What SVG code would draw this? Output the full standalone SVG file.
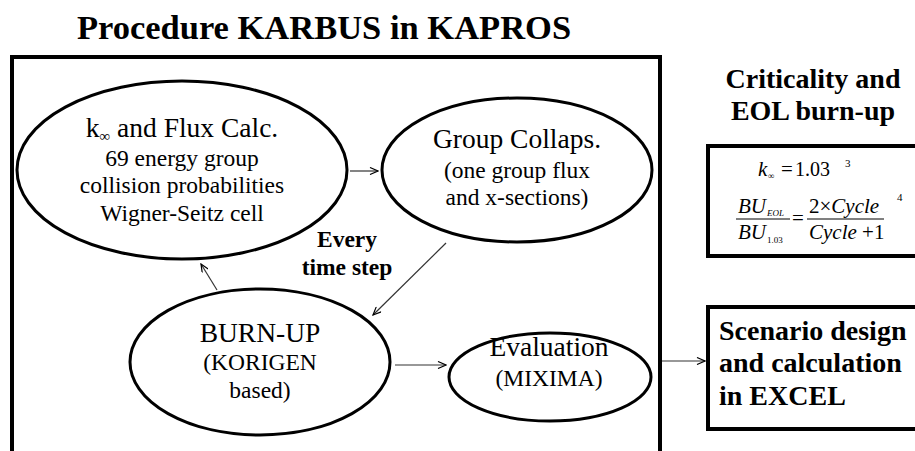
<svg xmlns="http://www.w3.org/2000/svg" width="915" height="451" viewBox="0 0 915 451">
<style>
text{font-family:"Liberation Serif","Times New Roman",serif;fill:#000}
.b{font-weight:bold}
.h{font-size:27.5px}
.s{font-size:23.5px}
.el{fill:#fff;stroke:#000;stroke-width:3}
.box{fill:#fff;stroke:#000;stroke-width:4}
.c{stroke:#333;stroke-width:1.2;fill:none}
.eq{font-size:21px}
.i{font-style:italic}
</style>
<defs>
<marker id="a" markerWidth="10" markerHeight="8" refX="9" refY="4" orient="auto" markerUnits="userSpaceOnUse">
<path d="M1,0.5 L9,4 L1,7.5" fill="none" stroke="#000" stroke-width="1.2"/>
</marker>
</defs>
<text x="324" y="39" text-anchor="middle" class="b" font-size="34.5">Procedure KARBUS in KAPROS</text>
<rect id="main" x="12" y="57" width="648" height="420" class="box"/>
<g id="n1">
<ellipse cx="182" cy="170" rx="165" ry="89" class="el"/>
<text x="182" y="137" text-anchor="middle" class="h">k<tspan font-size="15" dy="4">∞</tspan><tspan dy="-4"> and Flux Calc.</tspan></text>
<text x="182" y="166" text-anchor="middle" class="s">69 energy group</text>
<text x="182" y="193" text-anchor="middle" class="s">collision probabilities</text>
<text x="182" y="221" text-anchor="middle" class="s">Wigner-Seitz cell</text>
</g>
<g id="n2">
<ellipse cx="517" cy="170" rx="135" ry="72" class="el"/>
<text x="517" y="148" text-anchor="middle" class="h">Group Collaps.</text>
<text x="517" y="178" text-anchor="middle" class="s">(one group flux</text>
<text x="517" y="205" text-anchor="middle" class="s">and x-sections)</text>
</g>
<g id="n3">
<ellipse cx="260" cy="362" rx="130" ry="73" class="el"/>
<text x="260" y="342" text-anchor="middle" class="h">BURN-UP</text>
<text x="260" y="370" text-anchor="middle" class="s">(KORIGEN</text>
<text x="260" y="398" text-anchor="middle" class="s">based)</text>
</g>
<g id="n4">
<ellipse cx="550" cy="377" rx="101" ry="44" class="el"/>
<text x="549" y="356" text-anchor="middle" class="h">Evaluation</text>
<text x="549" y="386" text-anchor="middle" class="s">(MIXIMA)</text>
</g>
<g id="label">
<text x="347" y="247" text-anchor="middle" class="b s">Every</text>
<text x="347" y="275" text-anchor="middle" class="b s">time step</text>
</g>
<g id="crit">
<text x="813" y="88" text-anchor="middle" class="b" font-size="28">Criticality and</text>
<text x="813" y="120" text-anchor="middle" class="b" font-size="28">EOL burn-up</text>
</g>
<g id="eqbox">
<rect x="708" y="146" width="230" height="110" class="box"/>
<text x="758" y="176" class="eq i">k</text>
<text x="768" y="179" font-size="9">∞</text>
<text x="781" y="176" class="eq">=</text>
<text x="795" y="176" font-size="20">1.03</text>
<text x="845" y="167" font-size="11">3</text>
<text x="738" y="213" class="eq i">BU</text>
<text x="767" y="216" font-size="9" class="i">EOL</text>
<line x1="736" y1="219" x2="790" y2="219" stroke="#000" stroke-width="1"/>
<text x="738" y="239" class="eq i">BU</text>
<text x="767" y="243" font-size="9">1.03</text>
<text x="792" y="225" class="eq">=</text>
<text x="809" y="213" class="eq">2×<tspan class="i">Cycle</tspan></text>
<line x1="807" y1="219" x2="884" y2="219" stroke="#000" stroke-width="1"/>
<text x="809" y="239" class="eq"><tspan class="i">Cycle</tspan>  +1</text>
<text x="897" y="201" font-size="11">4</text>
</g>
<g id="scen">
<rect x="708" y="307" width="230" height="122" class="box"/>
<text x="719" y="340" class="b" font-size="28">Scenario design</text>
<text x="719" y="372" class="b" font-size="28">and calculation</text>
<text x="719" y="405" class="b" font-size="28">in EXCEL</text>
</g>
<g id="connectors">
<line x1="350" y1="171" x2="378" y2="171" class="c" marker-end="url(#a)"/>
<line x1="446" y1="243" x2="373" y2="315" class="c" marker-end="url(#a)"/>
<line x1="217" y1="290" x2="201" y2="264" class="c" marker-end="url(#a)"/>
<line x1="395" y1="365" x2="446" y2="365" class="c" marker-end="url(#a)"/>
<line x1="662" y1="361" x2="705" y2="361" class="c" marker-end="url(#a)"/>
</g>
</svg>
